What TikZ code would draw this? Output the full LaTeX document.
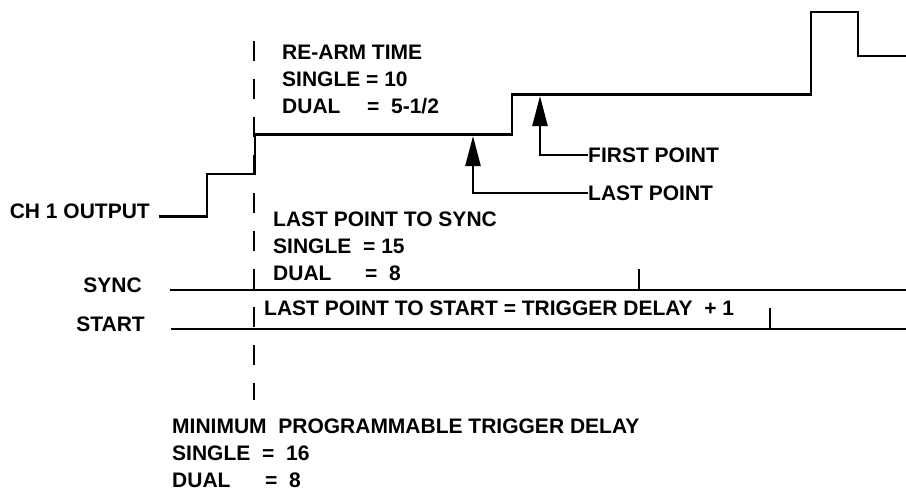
\documentclass[tikz,border=0pt]{standalone}
\usepackage{fontspec}
\setmainfont{Liberation Sans}
\usepackage{tikz}
\usetikzlibrary{arrows.meta}
\usetikzlibrary{positioning}
\tikzstyle{txt}=[inner sep=0, font=\bfseries\fontsize{21}{27}\selectfont]
\tikzstyle{txtblock}=[txt, align=left, anchor=north west]
\tikzstyle{wave}=[line width=2.7pt]
\tikzstyle{marker}=[line width=2.5pt, -{Triangle[length=30pt,width=15pt]}]
\tikzstyle{delayline}=[line width=2.5pt, dash pattern=on 20pt off 18pt]

\begin{document}
\begin{tikzpicture}[x=1pt,y=-1pt]
\useasboundingbox (0,0) rectangle (906,491);
\node[txt, anchor=base east] (ch1) at (150,218){CH 1 OUTPUT};
\draw[wave] (159,216.5) -- (207,216.5) -- (207,174) -- (255,174) -- (255,134.5) -- (512,134.5) -- (512,94.5) -- (811,94.5) -- (811,12) -- (858,12) -- (858,56) -- (906,56);
\coordinate (dtop) at (254,41);
\coordinate (dbot) at (254,400);
\draw[delayline] (dtop) -- (dbot);
\node[txtblock] (rearm) at (282,45){RE-ARM TIME\\SINGLE = 10\\\makebox[85pt][l]{DUAL}= \ 5-1/2};
\node[txtblock] (tosync) at (273,212){LAST POINT TO SYNC\\\makebox[90pt][l]{SINGLE}= 15\\\makebox[92pt][l]{DUAL}= \ 8};
\node[txt, anchor=base west] (tostart) at (264,315){LAST POINT TO START = TRIGGER DELAY \ + 1};
\node[txtblock] (mintrig) at (172,419){MINIMUM \ PROGRAMMABLE TRIGGER DELAY\\\makebox[90pt][l]{SINGLE}= \ 16\\\makebox[93pt][l]{DUAL}= \ 8};
\node[txt, anchor=west] (firstpt) at (588,155){FIRST POINT};
\node[txt, anchor=west] (lastpt) at (588,193){LAST POINT};
\coordinate (firsttip) at (540,96);
\coordinate (lasttip) at (473,136);
\draw[marker] (firstpt.west) -| (firsttip);
\draw[marker] (lastpt.west) -| (lasttip);
\node[txt, anchor=base east] (sync) at (142,292){SYNC};
\node[txt, anchor=base east] (start) at (145,331){START};
\coordinate (sync0) at (170,290);
\coordinate (sync1) at (906,290);
\draw[wave] (sync0) -- (sync1);
\coordinate (synctick) at (639,290);
\draw[wave] (synctick) -- ++(0,-21);
\coordinate (start0) at (171,329);
\coordinate (start1) at (906,329);
\draw[wave] (start0) -- (start1);
\coordinate (starttick) at (770,329);
\draw[wave] (starttick) -- ++(0,-21);
\end{tikzpicture}
\end{document}
